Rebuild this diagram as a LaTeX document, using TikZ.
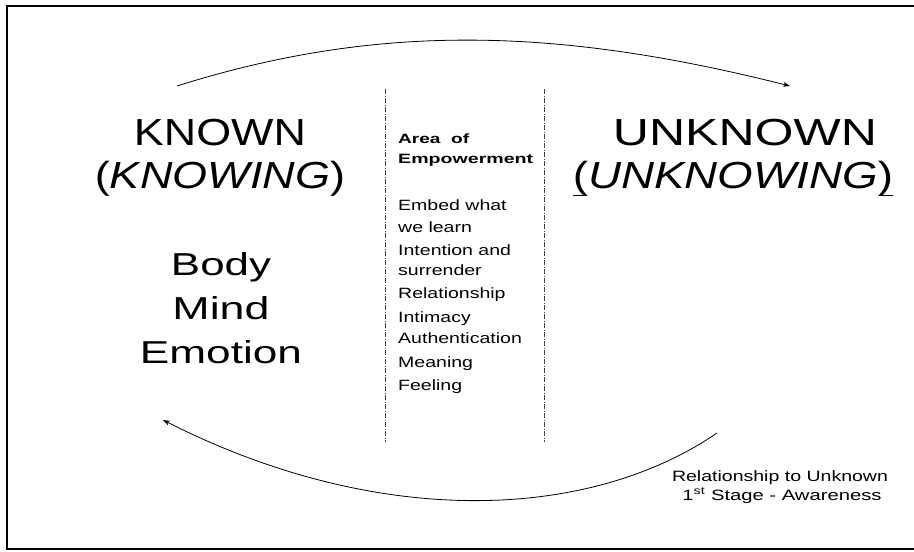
\documentclass[tikz,border=0pt]{standalone}
\usepackage{fontspec}
\setmainfont{Liberation Sans}
\usepackage{graphicx}
\usetikzlibrary{arrows.meta}
\newcommand\fitw[2]{\resizebox{#1pt}{\height}{#2}}
\newcommand\sxs[1]{\scalebox{1.31}[1]{#1}}
\begin{document}
\begin{tikzpicture}[x=1pt,y=-1pt,
  bigtxt/.style={inner sep=0pt, anchor=base, font=\fontsize{37.7}{40}\selectfont},
  midtxt/.style={inner sep=0pt, anchor=base, font=\fontsize{31.7}{34}\selectfont},
  headtxt/.style={inner sep=0pt, anchor=base west, font=\fontsize{13.5}{15}\selectfont\bfseries},
  itemtxt/.style={inner sep=0pt, anchor=base west, font=\fontsize{14.9}{16}\selectfont},
  notetxt/.style={inner sep=0pt, anchor=base, font=\fontsize{15}{16}\selectfont},
  divider/.style={line width=0.7pt, black!75, dash pattern=on 5pt off 1.5pt on 1pt off 1.5pt},
  flow/.style={line width=0.8pt, -{Stealth[length=7pt,width=5pt]}},
  frame/.style={line width=2pt}
]
\useasboundingbox (0,0) rectangle (914,552);
% frame (open to the right edge)
\draw[frame] (925,6) -- (7,6) -- (7,549) -- (925,549);

% left side
\node[bigtxt] (known) at (220,145) {\fitw{172}{KNOWN}};
\node[bigtxt] (knowing) at (220,188) {\fitw{250}{(\textit{KNOWING})}};
\node[midtxt] (body) at (221,275) {\fitw{100}{Body}};
\node[midtxt] (mind) at (221,319) {\fitw{97}{Mind}};
\node[midtxt] (emotion) at (221,363) {\fitw{162}{Emotion}};

% right side
\node[bigtxt] (unknown) at (745,145) {\fitw{264}{UNKNOWN}};
\node[bigtxt] (unknowing) at (733,188) {\fitw{320}{(\textit{UNKNOWING})}};
\coordinate (ula) at (573,195); \coordinate (ulb) at (587,195);
\coordinate (ura) at (879,195); \coordinate (urb) at (893,195);
\draw[line width=0.7pt] (ula) -- (ulb);
\draw[line width=0.7pt] (ura) -- (urb);

% middle column
\coordinate (d1t) at (385,89); \coordinate (d1b) at (385,442);
\coordinate (d2t) at (544,89); \coordinate (d2b) at (544,442);
\draw[divider] (d1t) -- (d1b);
\draw[divider] (d2t) -- (d2b);
\node[headtxt] (area) at (398,143) {\fitw{71}{Area\ \ of}};
\node[headtxt] (empower) at (398,163) {\fitw{135}{Empowerment}};
\foreach \t/\yy [count=\i] in {Embed what/210, we learn/232, Intention and/255, surrender/275, Relationship/298, Intimacy/322, Authentication/343, Meaning/367, Feeling/390}
  \node[itemtxt] (item\i) at (398,\yy) {\sxs{\t}};

% bottom-right note
\node[notetxt] (note1) at (780,481) {\fitw{216}{Relationship to Unknown}};
\node[notetxt] (note2) at (782,500) {\fitw{199}{1\textsuperscript{st} Stage - Awareness}};

% arrows
\coordinate (ts) at (177,86); \coordinate (te) at (790,86);
\draw[flow] (ts) .. controls (380,22) and (560,28) .. (te);
\coordinate (bs) at (717,433); \coordinate (be) at (163,420);
\draw[flow] (bs) .. controls (590,520) and (380,530) .. (be);
\end{tikzpicture}
\end{document}
